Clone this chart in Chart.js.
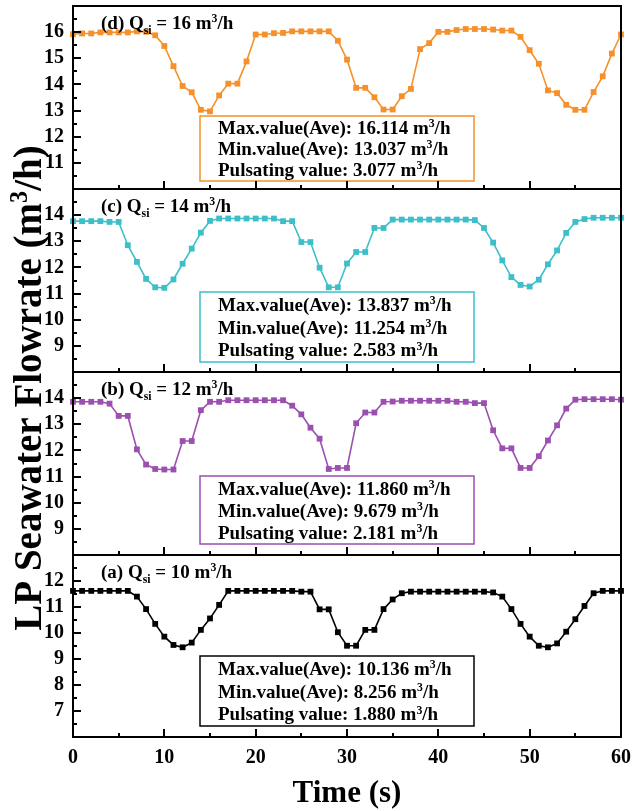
<!DOCTYPE html>
<html>
<head>
<meta charset="utf-8">
<script src="https://cdn.jsdelivr.net/npm/chart.js@4.4.1/dist/chart.umd.min.js"></script>
<style>
  html, body { margin: 0; padding: 0; background: #fff; }
  #wrap { position: relative; width: 632px; height: 811px; }
  #wrap canvas { position: absolute; left: 0; top: 0; }
</style>
</head>
<body>
<div id="wrap">
  <canvas id="panelD" width="632" height="811"></canvas>
  <canvas id="panelC" width="632" height="811"></canvas>
  <canvas id="panelB" width="632" height="811"></canvas>
  <canvas id="panelA" width="632" height="811"></canvas>
</div>
<script>
// ---------- data ----------
const timeSec = [0,1,2,3,4,5,6,7,8,9,10,11,12,13,14,15,16,17,18,19,20,
  21,22,23,24,25,26,27,28,29,30,31,32,33,34,35,36,37,38,39,40,
  41,42,43,44,45,46,47,48,49,50,51,52,53,54,55,56,57,58,59,60];

// (d) Qsi = 16
const flowD = [15.92,15.95,15.95,15.99,15.99,15.99,15.99,16.03,16.01,15.88,15.47,
  14.70,13.94,13.70,13.03,12.97,13.58,14.03,14.03,14.88,15.91,
  15.91,15.96,15.97,16.03,16.03,16.03,16.03,16.03,15.67,14.95,
  13.87,13.87,13.51,13.04,13.04,13.55,13.83,15.35,15.58,16.01,
  16.01,16.08,16.12,16.12,16.12,16.10,16.06,16.06,15.82,15.31,
  14.79,13.77,13.67,13.22,13.03,13.03,13.71,14.31,15.18,15.91];

// (c) Qsi = 14
const flowC = [13.77,13.77,13.77,13.77,13.74,13.74,12.85,12.21,11.56,11.24,11.22,
  11.54,12.14,12.72,13.33,13.78,13.87,13.87,13.87,13.87,13.87,
  13.87,13.87,13.77,13.77,12.97,12.97,11.99,11.24,11.24,12.15,
  12.59,12.59,13.51,13.51,13.83,13.83,13.83,13.83,13.83,13.83,
  13.83,13.83,13.83,13.81,13.51,12.95,12.27,11.63,11.33,11.27,
  11.53,12.12,12.65,13.32,13.74,13.85,13.90,13.90,13.90,13.90];

// (b) Qsi = 12
const flowB = [13.86,13.86,13.86,13.86,13.79,13.32,13.32,12.04,11.46,11.29,11.27,
  11.27,12.36,12.36,13.54,13.86,13.86,13.92,13.92,13.92,13.92,
  13.92,13.92,13.92,13.71,13.38,12.87,12.45,11.29,11.33,11.33,
  13.04,13.45,13.45,13.86,13.87,13.90,13.90,13.90,13.90,13.90,
  13.90,13.86,13.86,13.81,13.81,12.77,12.08,12.08,11.33,11.33,
  11.78,12.38,12.96,13.60,13.94,13.96,13.96,13.96,13.96,13.94];

// (a) Qsi = 10
const flowA = [11.62,11.62,11.62,11.62,11.62,11.62,11.62,11.40,10.92,10.35,9.86,
  9.54,9.45,9.63,10.12,10.56,11.08,11.62,11.62,11.62,11.62,
  11.62,11.62,11.62,11.62,11.59,11.59,10.91,10.91,10.03,9.51,
  9.51,10.12,10.12,10.92,11.29,11.53,11.59,11.59,11.59,11.59,
  11.59,11.59,11.59,11.59,11.59,11.56,11.40,10.92,10.35,9.86,
  9.51,9.45,9.60,10.05,10.53,11.04,11.53,11.62,11.62,11.62];

const statsD = ['16.114', '13.037', '3.077'];
const statsC = ['13.837', '11.254', '2.583'];
const statsB = ['11.860', '9.679', '2.181'];
const statsA = ['10.136', '8.256', '1.880'];

const xTicks = [0, 10, 20, 30, 40, 50, 60];

// ---------- helpers ----------
const SERIF = '"Liberation Serif", "Times New Roman", serif';

function richWidth(ctx, parts, size) {
  let w = 0;
  parts.forEach(([t, mode]) => {
    const s = mode === 'n' ? size : size * 0.62;
    ctx.font = `bold ${s}px ${SERIF}`;
    w += ctx.measureText(t).width;
  });
  return w;
}

// y = middle of normal-size capitals
function drawRich(ctx, parts, x, y, size) {
  let cx = x;
  const base = y + size * 0.33;
  ctx.textBaseline = 'alphabetic';
  ctx.textAlign = 'left';
  parts.forEach(([t, mode]) => {
    const s = mode === 'n' ? size : size * 0.62;
    ctx.font = `bold ${s}px ${SERIF}`;
    const dy = mode === 'sup' ? -size * 0.36 : mode === 'sub' ? size * 0.24 : 0;
    ctx.fillText(t, cx, base + dy);
    cx += ctx.measureText(t).width;
  });
}

// frame, inward ticks, panel label, stats box
const decorPlugin = {
  id: 'decor',
  afterDraw(chart, args, o) {
    const { ctx, chartArea: a } = chart;
    const xs = chart.scales.x, ys = chart.scales.y;
    ctx.save();

    // stats box
    const [bx1, by1, bx2, by2] = o.box;
    ctx.fillStyle = '#fff';
    ctx.fillRect(bx1, by1, bx2 - bx1, by2 - by1);
    ctx.strokeStyle = o.color;
    ctx.lineWidth = 1.5;
    ctx.strokeRect(bx1, by1, bx2 - bx1, by2 - by1);
    const h = by2 - by1;
    const names = ['Max.value(Ave): ', 'Min.value(Ave): ', 'Pulsating value: '];
    ctx.fillStyle = '#000';
    o.stats.forEach((v, i) => {
      drawRich(ctx, [[names[i] + v + ' m', 'n'], ['3', 'sup'], ['/h', 'n']],
        bx1 + 18, by1 + h * 0.18 + i * h * 0.325, 19);
    });

    // panel label
    drawRich(ctx, [[o.tag + ' Q', 'n'], ['si', 'sub'], [' = ' + o.q + ' m', 'n'], ['3', 'sup'], ['/h', 'n']],
      a.left + 28, a.top + 17, 19);

    // ticks
    ctx.strokeStyle = '#000';
    ctx.lineWidth = 2;
    ctx.beginPath();
    for (let v = ys.min; v <= ys.max + 1e-9; v += 0.5) {
      const py = Math.round(ys.getPixelForValue(v));
      const len = Number.isInteger(v) ? 8 : 4;
      ctx.moveTo(a.left, py);
      ctx.lineTo(a.left + len, py);
    }
    for (let v = xs.min; v <= xs.max + 1e-9; v += 5) {
      const px = Math.round(xs.getPixelForValue(v));
      const len = v % 10 === 0 ? 8 : 4;
      ctx.moveTo(px, a.bottom);
      ctx.lineTo(px, a.bottom - len);
    }
    ctx.stroke();

    // frame
    ctx.lineWidth = 2;
    ctx.strokeRect(a.left, a.top, a.right - a.left, a.bottom - a.top);

    // shared y title
    if (o.yTitle) {
      const parts = [['LP Seawater Flowrate (m', 'n'], ['3', 'sup'], ['/h)', 'n']];
      const size = 39;
      const w = richWidth(ctx, parts, size);
      ctx.translate(28, 388);
      ctx.rotate(-Math.PI / 2);
      drawRich(ctx, parts, -w / 2, 0, size);
    }
    ctx.restore();
  }
};

// ---------- panels ----------
const panels = [
  { id: 'panelD', values: flowD, color: '#F5902A', yMin: 10, yMax: 17, top: 6, bottom: 189,
    tag: '(d)', q: '16', stats: statsD, box: [200, 116, 474, 181] },
  { id: 'panelC', values: flowC, color: '#3DBFC9', yMin: 8, yMax: 15, top: 189, bottom: 372,
    tag: '(c)', q: '14', stats: statsC, box: [200, 292, 474, 362] },
  { id: 'panelB', values: flowB, color: '#9B4FB0', yMin: 8, yMax: 15, top: 372, bottom: 555,
    tag: '(b)', q: '12', stats: statsB, box: [200, 476, 474, 544] },
  { id: 'panelA', values: flowA, color: '#000000', yMin: 6, yMax: 13, top: 555, bottom: 737,
    tag: '(a)', q: '10', stats: statsA, box: [200, 656, 474, 726], last: true }
];

panels.forEach(p => {
  const ctx = document.getElementById(p.id).getContext('2d');
  new Chart(ctx, {
    type: 'line',
    data: {
      datasets: [{
        data: timeSec.map((t, i) => ({ x: t, y: p.values[i] })),
        borderColor: p.color,
        backgroundColor: p.color,
        borderWidth: 1.6,
        pointStyle: 'rect',
        pointRadius: 4.1,
        pointBorderWidth: 0,
        tension: 0,
        clip: false
      }]
    },
    options: {
      responsive: false,
      animation: false,
      events: [],
      devicePixelRatio: 1,
      layout: { padding: { top: p.top, left: 0, right: 11, bottom: p.last ? 0 : 811 - p.bottom } },
      plugins: {
        legend: { display: false },
        tooltip: { enabled: false },
        decor: { color: p.color, tag: p.tag, q: p.q, stats: p.stats, box: p.box, yTitle: !!p.last }
      },
      scales: {
        x: {
          type: 'linear', min: 0, max: 60,
          afterBuildTicks: s => { s.ticks = xTicks.map(v => ({ value: v })); },
          afterFit: s => {
            s.height = p.last ? 811 - p.bottom : 0;
            s.paddingLeft = 0;
            s.paddingRight = 0;
          },
          grid: { display: false, drawTicks: false },
          border: { display: false },
          ticks: {
            display: !!p.last, autoSkip: false, maxRotation: 0, padding: 9,
            color: '#000', font: { family: SERIF, size: 20, weight: 'bold' }
          },
          title: {
            display: !!p.last, text: 'Time (s)', color: '#000',
            font: { family: SERIF, size: 31, weight: 'bold' }, padding: { top: 0, bottom: -2 }
          }
        },
        y: {
          min: p.yMin, max: p.yMax,
          afterFit: s => {
            s.width = 73;
            s.paddingTop = 0;
            s.paddingBottom = 0;
          },
          grid: { display: false, drawTicks: false },
          border: { display: false },
          ticks: {
            stepSize: 1, autoSkip: false, padding: 9, color: '#000',
            font: { family: SERIF, size: 20, weight: 'bold' },
            callback: v => (v === p.yMin || v === p.yMax) ? '' : v
          }
        }
      }
    },
    plugins: [decorPlugin]
  });
});
</script>
</body>
</html>
